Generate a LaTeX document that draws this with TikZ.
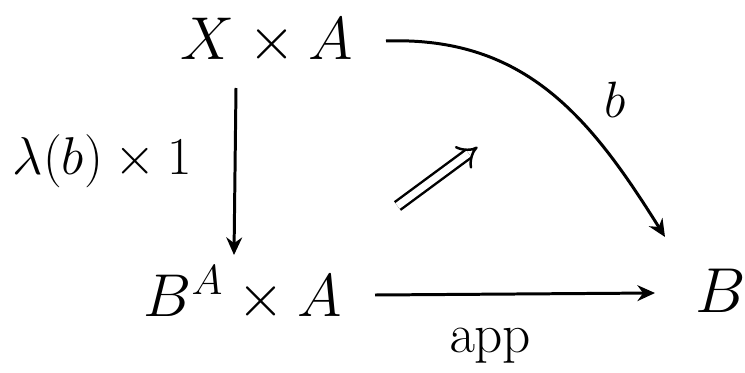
\documentclass[tikz,border=0pt]{standalone}
\usetikzlibrary{arrows.meta}
\begin{document}
\begin{tikzpicture}[
                obj/.style={inner sep=1pt, font=\huge, scale=1.66},
                lab/.style={inner sep=1pt, font=\huge, scale=1.46},
                arr/.style={-{Stealth[length=10pt, width=9pt]}},
                line width=1.7pt
            ]

                \useasboundingbox (0,0) rectangle (14.9,7.44);

                % The three objects
                \node[obj] (xa) at (5.34,6.62) {$X\times A$};
                \node[obj] (bax) at (4.86,1.56) {$B^{A}\times A$};
                \node[obj, scale=1.05] (b) at (14.42,1.62) {$B$};

                % Vertical arrow on the left
                \coordinate (t1) at (4.72,5.68);
                \coordinate (t2) at (4.68,2.34);
                \draw[arr] (t1) -- (t2);
                \node[lab] (lam) at (2.05,4.22) {$\lambda(b)\times 1$};

                % Curved arrow on the top right
                \coordinate (c1) at (7.72,6.62);
                \coordinate (c2) at (13.3,2.7);
                \draw[arr] (c1) to [out=2, in=122, looseness=1.05] (c2);
                \node[lab, scale=0.96] (lb) at (12.3,5.45) {$b$};

                % Bottom arrow
                \coordinate (a1) at (7.5,1.54);
                \coordinate (a2) at (13.1,1.58);
                \draw[arr] (a1) -- (a2);
                \node[lab, scale=1.04] (lapp) at (9.8,0.52) {$\mathrm{app}$};

                % The double arrow (2-cell)
                \coordinate (d1) at (7.95,3.32);
                \coordinate (d2) at (9.55,4.5);
                \draw[double, double distance=4pt, line width=1.4pt, -{Implies}] (d1) -- (d2);

            \end{tikzpicture}
\end{document}
